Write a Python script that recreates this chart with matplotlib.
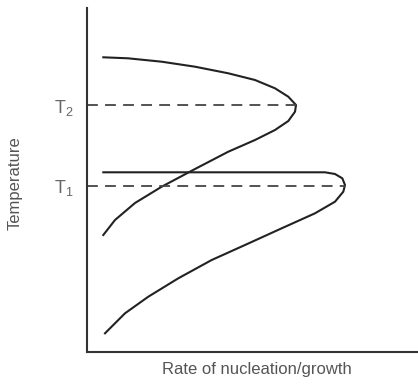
import numpy as np
import matplotlib.pyplot as plt

plt.rcParams['font.family'] = ['Liberation Sans', 'DejaVu Sans']

# curve readings (x = rate, y = temperature), arbitrary units
upper_x = [16.3, 41, 74.7, 108, 141.3, 168, 188, 201.3, 209, 208, 201.3, 188, 168, 141.3, 108, 74.7, 48, 28, 16.3]
upper_y = [294.7, 293.7, 290.3, 285.3, 278.7, 272, 263.7, 255.3, 247, 240.3, 231, 222, 212, 200.3, 183, 165.3, 149, 132, 117]
lower_x = [16.3, 60, 120, 180, 238, 248, 255.3, 258, 256.3, 248, 228, 194.7, 158, 124.7, 91.3, 61.3, 38, 18]
lower_y = [179.7, 179.7, 179.7, 179.7, 179.7, 178, 173.7, 167, 160.3, 150.3, 138.7, 123.7, 107, 92, 73.7, 55.3, 38.7, 18.7]

T1 = 166.5
T2 = 247
T1_rate = 258
T2_rate = 209
t_labels = ['$\\mathregular{T_1}$', '$\\mathregular{T_2}$']

fig = plt.figure(figsize=(4.18, 3.87), dpi=100)
ax = fig.add_axes([87/418, 35/387, 331/418, 344/387])

ax.plot(upper_x, upper_y, color='#222222', lw=1.5)
ax.plot(lower_x, lower_y, color='#222222', lw=1.5)

# dashed guide lines
ax.plot([0, T2_rate], [T2, T2], color='#444444', lw=1.3, ls=(0, (6, 4)))
ax.plot([0, T1_rate], [T1, T1], color='#444444', lw=1.3, ls=(0, (6, 4)))

ax.set_xlim(0, 331)
ax.set_ylim(0, 344)

for s in ['top', 'right']:
    ax.spines[s].set_visible(False)
for s in ['left', 'bottom']:
    ax.spines[s].set_color('#333333')
    ax.spines[s].set_linewidth(1.5)

ax.set_xticks([])
ax.set_yticks([T1, T2])
ax.set_yticklabels(t_labels, fontsize=13, color='#666666')
ax.tick_params(axis='y', length=0, pad=10)

ax.set_ylabel('Temperature', fontsize=12, color='#555555')
ax.yaxis.set_label_coords(-0.195, 0.49)
ax.set_xlabel('Rate of nucleation/growth', fontsize=12, color='#555555')
ax.xaxis.set_label_coords(0.514, -0.03)

fig.savefig('out.png', dpi=100)
